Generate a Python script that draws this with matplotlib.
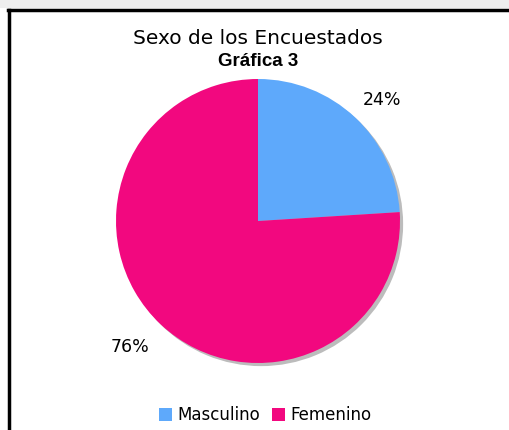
import matplotlib.pyplot as plt
from matplotlib.patches import Rectangle, Patch

labels = ["Masculino", "Femenino"]
values = [24, 76]
pct_labels = ["24%", "76%"]
colors = ["#5ea9fb", "#f2087f"]

fig = plt.figure(figsize=(5.1, 4.3), dpi=100)
fig.patch.set_facecolor("white")

# light strip at the top and the black frame
fig.patches.append(Rectangle((0, 1 - 8 / 430), 1, 8 / 430, transform=fig.transFigure,
                             facecolor="#eeeeee", edgecolor="none", zorder=0))
fig.add_artist(plt.Line2D([9 / 510, 9 / 510], [0, 1 - 10 / 430], color="black", lw=2.5,
                          transform=fig.transFigure))
fig.add_artist(plt.Line2D([8 / 510, 1], [1 - 10 / 430, 1 - 10 / 430], color="black", lw=2.5,
                          transform=fig.transFigure))

# pie: center (258, 221), radius 142 px
r = 142
cx, cy = 258, 221
ax = fig.add_axes([(cx - r) / 510, 1 - (cy + r) / 430, 2 * r / 510, 2 * r / 430])

# soft shadow
shadow, _ = ax.pie([1], radius=1.0, colors=["#bcbcbc"], startangle=90,
                   center=(0.022, -0.022), wedgeprops=dict(linewidth=0))
for w in shadow:
    w.set_clip_on(False)
wedges, _ = ax.pie(values, colors=colors, startangle=90, counterclock=False,
                   wedgeprops=dict(linewidth=0))
for w in wedges:
    w.set_clip_on(False)
ax.set_xlim(-1.0, 1.0)
ax.set_ylim(-1.0, 1.0)
ax.set_aspect("auto")

fig.text(382 / 510, 1 - 100 / 430, pct_labels[0], ha="center", va="center", fontsize=12.5)
fig.text(130 / 510, 1 - 347 / 430, pct_labels[1], ha="center", va="center", fontsize=12.5)

fig.text(258 / 510, 1 - 38 / 430, "Sexo de los Encuestados", ha="center", va="center",
         fontsize=14.5)
fig.text(258 / 510, 1 - 62 / 430, "Gráfica 3", ha="center", va="center",
         fontsize=13.5, fontweight="bold", family="Liberation Sans")

handles = [Patch(facecolor=c, edgecolor="none") for c in colors]
fig.legend(handles, labels, loc="center", bbox_to_anchor=(265 / 510, 1 - 415 / 430),
           ncol=2, frameon=False, fontsize=12, handlelength=0.8, handleheight=0.8,
           handletextpad=0.3, columnspacing=0.7)

fig.savefig("out.png", dpi=100)
